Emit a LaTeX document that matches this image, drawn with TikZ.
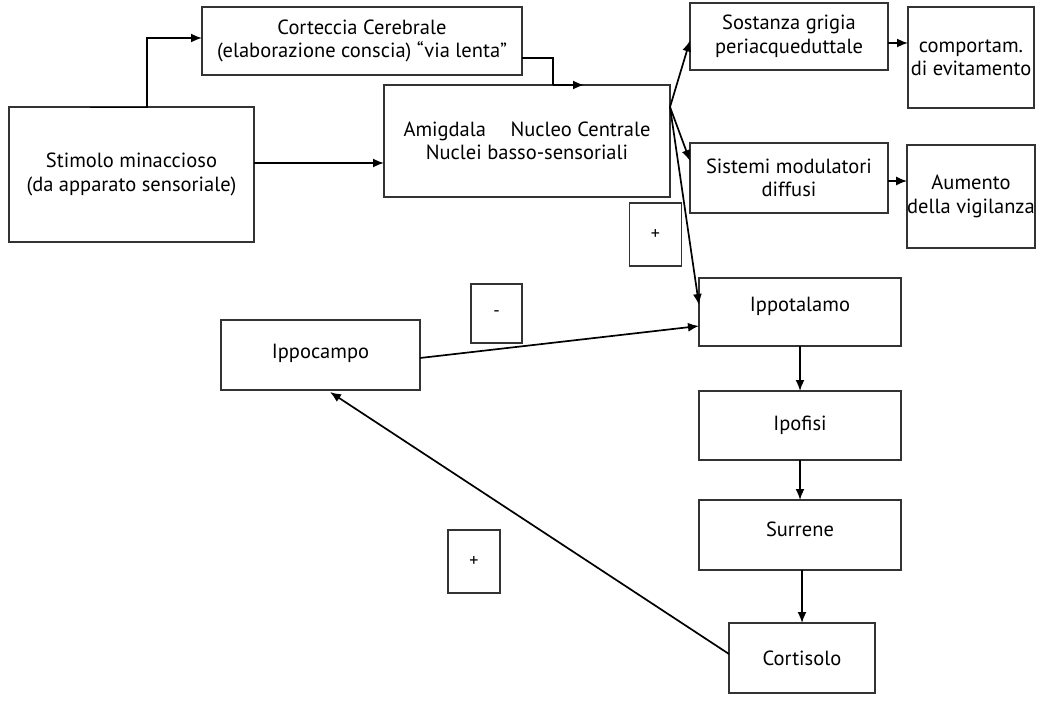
\documentclass[tikz,border=0pt]{standalone}
\usepackage{fontspec}
\setmainfont{PT Sans}
\usetikzlibrary{arrows.meta}
\begin{document}
\begin{tikzpicture}[x=1pt,y=-1pt,
  box/.style={draw=black!80,line width=1.5pt,inner sep=0pt,outer sep=0pt,align=center,font=\fontsize{20.5}{23.5}\selectfont},
  sbox/.style={draw=black!80,line width=1.2pt,inner sep=0pt,outer sep=0pt,font=\fontsize{18}{20}\selectfont},
  arr/.style={line width=1.7pt,-{Latex[length=11pt,width=9pt]}},
  ln/.style={line width=1.7pt}]
\useasboundingbox (0,0) rectangle (1041,701);
\node[box,minimum width=320,minimum height=68] (cort) at (362,41) {Corteccia Cerebrale\\(elaborazione conscia) ``via lenta''};
\node[box,minimum width=245,minimum height=135] (stim) at (131.5,174.5) {Stimolo minaccioso\\(da apparato sensoriale)};
\node[box,minimum width=286,minimum height=112] (amig) at (527,141) {Amigdala\hspace{1.2em}Nucleo Centrale\\Nuclei basso-sensoriali};
\node[box,minimum width=198,minimum height=67] (sost) at (789,36.5) {Sostanza grigia\\periacqueduttale};
\node[box,minimum width=126,minimum height=101] (comp) at (971,57.5) {comportam.\\di evitamento};
\node[box,minimum width=198,minimum height=70] (sist) at (789,178) {Sistemi modulatori\\diffusi};
\node[box,minimum width=126,minimum height=103] (aum) at (971,196.5) {Aumento\\della vigilanza};
\node[sbox,minimum width=52,minimum height=63] (plusa) at (655.5,234.5) {+};
\node[box,minimum width=202,minimum height=68,text depth=16pt] (ipt) at (800,312) {Ippotalamo};
\node[sbox,minimum width=51,minimum height=59] (minus) at (496.5,313.5) {-};
\node[box,minimum width=199,minimum height=70,text depth=8pt] (ipc) at (320.5,355) {Ippocampo};
\node[box,minimum width=202,minimum height=69] (ipf) at (800,425.5) {Ipofisi};
\node[box,minimum width=202,minimum height=70,text depth=12pt] (sur) at (800,535) {Surrene};
\node[box,minimum width=146,minimum height=70] (corti) at (802,658) {Cortisolo};
\node[sbox,minimum width=52,minimum height=63,text depth=-8pt] (plusb) at (474,561.5) {+};
% connectors
\coordinate (s1) at (90,107.5);
\coordinate (s2) at (147,107.5);
\draw[ln] (s1) -- (s2);
\draw[arr] (s2) |- ([yshift=3pt]cort.west);
\coordinate (k1) at (553,85);
\coordinate (k2) at (584,85);
\draw[ln] ([yshift=-17pt]cort.east) -| (k1);
\draw[arr] (k1) -- (k2);
\draw[arr] ([yshift=11.5pt]stim.east) -- ([yshift=11.5pt]stim.east -| amig.west);
\coordinate (fan) at (670,107);
\draw[arr] (fan) -- ([yshift=-4pt]sost.west);
\draw[arr] (fan) -- ([yshift=17pt]sist.west);
\draw[arr] (fan) -- ([yshift=7pt]ipt.west);
\draw[arr] ([yshift=-6.5pt]sost.east) -- ([yshift=-6.5pt]sost.east -| comp.west);
\draw[arr] ([yshift=-3pt]sist.east) -- ([yshift=-3pt]sist.east -| aum.west);
\draw[arr] ([yshift=-3pt]ipc.east) -- ([yshift=-14pt]ipt.west);
\draw[arr] (ipt.south) -- (ipf.north);
\draw[arr] (ipf.south) -- (sur.north);
\draw[arr] (sur.south -| corti.north) -- (corti.north);
\draw[arr] ([yshift=4pt]corti.west) -- ([xshift=9.5pt,yshift=-2pt]ipc.south);
\end{tikzpicture}
\end{document}
